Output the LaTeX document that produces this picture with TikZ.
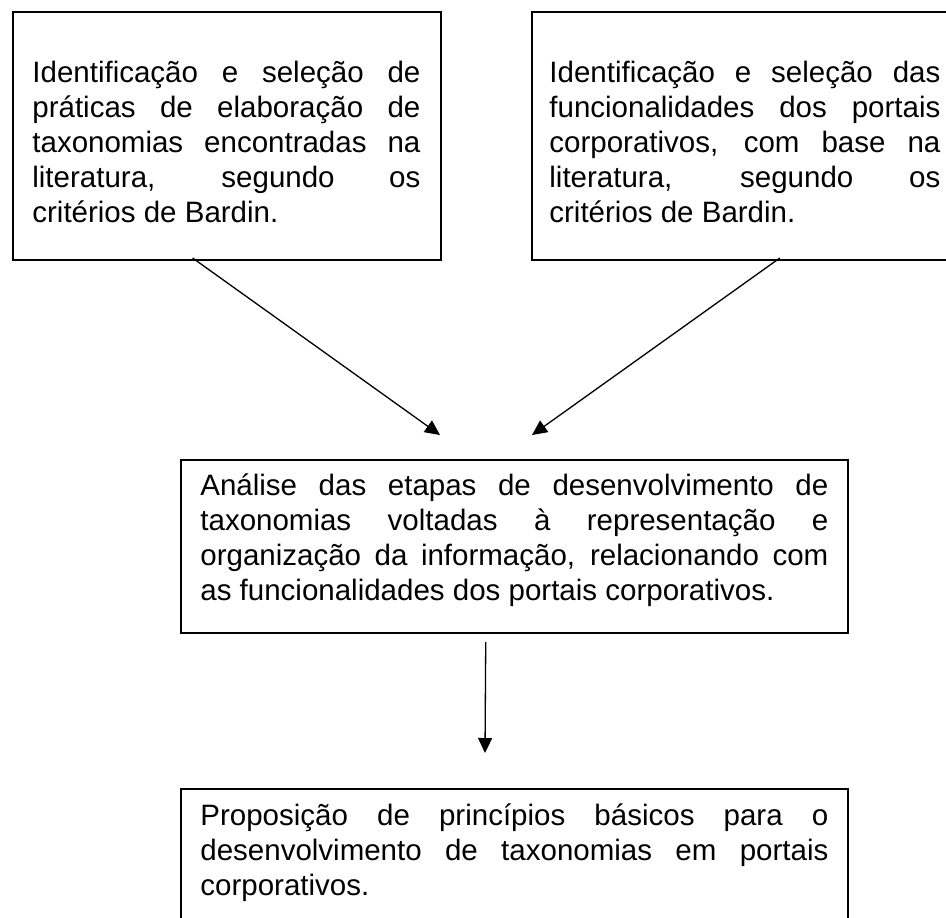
\documentclass[tikz,border=0pt]{standalone}
\usepackage{fontspec}
\setmainfont{Liberation Sans}
\usetikzlibrary{arrows.meta,calc}
\tikzset{
  boxst/.style={draw=black, line width=1pt, inner sep=0pt, anchor=north west},
  txt/.style={inner sep=0pt, anchor=base west, font=\fontsize{14.75pt}{17.5pt}\selectfont},
  conn/.style={draw=black, line width=0.65pt, -{Triangle[length=7.5pt,width=7pt]}},
}
\newcommand{\boxpar}[2]{\parbox[t]{#1}{\fontsize{14.75pt}{17.5pt}\selectfont\tolerance=10000\hyphenpenalty=10000\hbadness=10000 #2}}
\begin{document}
\begin{tikzpicture}[x=0.5pt,y=-0.5pt]
\useasboundingbox (0,0) rectangle (946,917);
\clip (0,0) rectangle (946,917);
% boxes
\node[boxst, minimum width=214pt, minimum height=124pt] (b1) at (12,11) {};
\node[boxst, minimum width=215pt, minimum height=124pt] (b2) at (531,11) {};
\node[boxst, minimum width=333.5pt, minimum height=86.5pt] (b3) at (180,459) {};
\node[boxst, minimum width=333.5pt, minimum height=90pt] (b4) at (180,788) {};
% texts
\node[txt] (t1) at (32,82) {\boxpar{194pt}{Identificação e seleção de\linebreak práticas de elaboração de\linebreak taxonomias encontradas na\linebreak literatura, segundo os\linebreak critérios de Bardin.}};
\node[txt] (t2) at (549,82) {\boxpar{195.5pt}{Identificação e seleção das\linebreak funcionalidades dos portais\linebreak corporativos, com base na\linebreak literatura, segundo os\linebreak critérios de Bardin.}};
\node[txt] (t3) at (200,495) {\boxpar{314pt}{Análise das etapas de desenvolvimento de\linebreak taxonomias voltadas à representação e\linebreak organização da informação, relacionando com\linebreak as funcionalidades dos portais corporativos.}};
\node[txt] (t4) at (200,825) {\boxpar{314pt}{Proposição de princípios básicos para o\linebreak desenvolvimento de taxonomias em portais\linebreak corporativos.}};
% arrow ends
\coordinate (h1) at (440,435);
\coordinate (h2) at (532,435);
\coordinate (h3) at (485,753);
% connectors
\draw[conn] ($(b1.south west)!0.42!(b1.south east)+(0,-3)$) -- (h1);
\draw[conn] ($(b2.south west)!0.576!(b2.south east)+(0,-3)$) -- (h2);
\draw[conn] ($(b3.south west)!0.457!(b3.south east)+(0,8)$) -- (h3);
\end{tikzpicture}
\end{document}
